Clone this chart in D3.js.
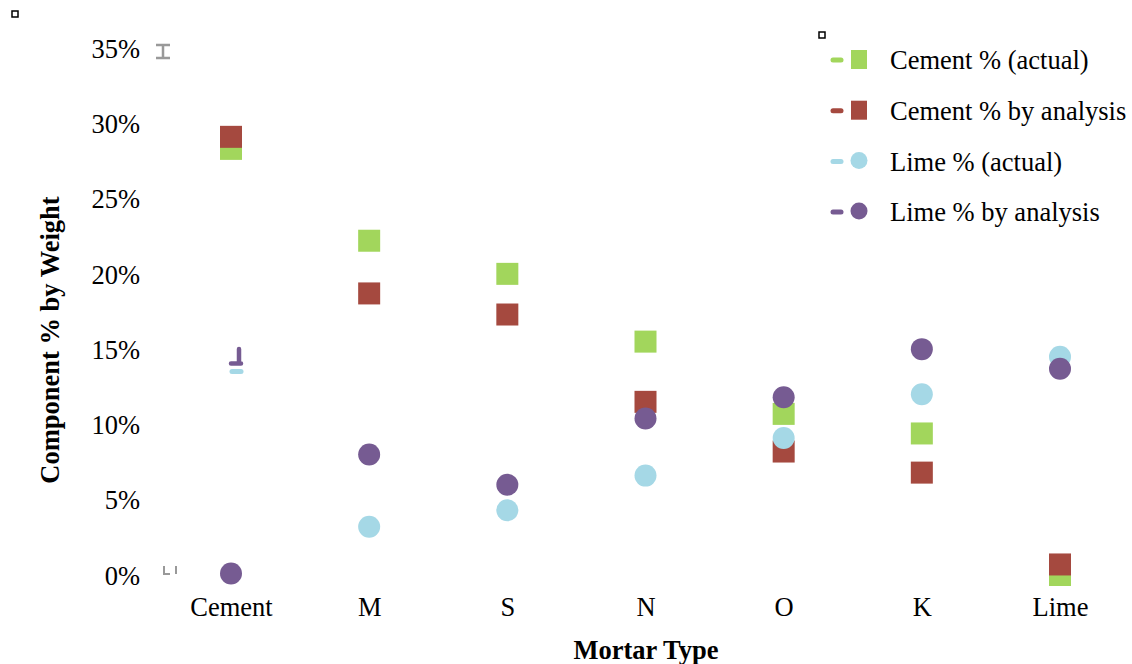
<!DOCTYPE html>
<html>
<head>
<meta charset="utf-8">
<script src="https://cdn.jsdelivr.net/npm/d3@7"></script>
<style>
  body { margin: 0; background: #fff; }
  text { font-family: "Liberation Serif", "Times New Roman", serif; }
</style>
</head>
<body>
<svg id="svg" width="1132" height="664"></svg>
<script>
// data
var mortarTypes = ["Cement", "M", "S", "N", "O", "K", "Lime"];
var cementActual = [28.3, 22.2, 20.0, 15.5, 10.7, 9.4, 0.0];
var cementAnalysis = [29.1, 18.7, 17.3, 11.5, 8.2, 6.8, 0.7];
var limeActual = [null, 3.2, 4.3, 6.6, 9.1, 12.0, 14.5];
var limeAnalysis = [0.1, 8.0, 6.0, 10.4, 11.8, 15.0, 13.7];
var yTicks = [0, 5, 10, 15, 20, 25, 30, 35];

var series = [
  {name: "Cement % (actual)", values: cementActual, color: "#a2d65c", shape: "square"},
  {name: "Cement % by analysis", values: cementAnalysis, color: "#a5493f", shape: "square"},
  {name: "Lime % (actual)", values: limeActual, color: "#a5d8e6", shape: "circle"},
  {name: "Lime % by analysis", values: limeAnalysis, color: "#765b92", shape: "circle"}
];

var fontSize = 26.5;
var svg = d3.select("#svg");

var x = d3.scalePoint().domain(mortarTypes).range([231, 1060]);
var y = d3.scaleLinear().domain([0, 35]).range([575, 48]);

// y axis (labels only)
var yAxis = svg.append("g")
  .attr("transform", "translate(150,0)")
  .call(d3.axisLeft(y).tickValues(yTicks).tickSize(0).tickPadding(10).tickFormat(function(d){ return d + "%"; }));
yAxis.select(".domain").remove();
yAxis.selectAll("text").attr("font-size", fontSize).attr("fill", "#000").attr("dy", "0.35em")
  .style("font-family", "'Liberation Serif', serif");

// x axis (labels only)
var xAxis = svg.append("g")
  .attr("transform", "translate(0,616)")
  .call(d3.axisBottom(x).tickSize(0).tickPadding(0));
xAxis.select(".domain").remove();
xAxis.selectAll("text").attr("font-size", fontSize).attr("fill", "#000").attr("dy", 0)
  .style("font-family", "'Liberation Serif', serif");

// stray gray axis marks
svg.append("path").attr("d", "M156,45H170M163,45V58M156,58H170")
  .attr("stroke", "#999").attr("stroke-width", 2.5).attr("fill", "none");
svg.append("path").attr("d", "M164,566V574H170M176,566V574")
  .attr("stroke", "#999").attr("stroke-width", 2).attr("fill", "none");

// small black squares
[[15, 14], [822, 35]].forEach(function(p){
  svg.append("rect").attr("x", p[0] - 3).attr("y", p[1] - 3).attr("width", 6).attr("height", 6)
    .attr("fill", "#fff").attr("stroke", "#000").attr("stroke-width", 1.5);
});

// odd little marks near Cement at ~14%
svg.append("path").attr("d", "M232,371.5H241")
  .attr("stroke", "#a5d8e6").attr("stroke-width", 5).attr("stroke-linecap", "round");
svg.append("path").attr("d", "M231,363.5H241M239,363V349")
  .attr("stroke", "#765b92").attr("stroke-width", 4.5).attr("stroke-linecap", "round").attr("fill", "none");

var size = 22;
series.forEach(function(s){
  var pts = s.values.map(function(v, i){ return {cat: mortarTypes[i], v: v}; })
    .filter(function(d){ return d.v !== null; });
  var g = svg.append("g");
  if (s.shape === "square") {
    g.selectAll("rect").data(pts).enter().append("rect")
      .attr("x", function(d){ return x(d.cat) - size / 2; })
      .attr("y", function(d){ return y(d.v) - size / 2; })
      .attr("width", size).attr("height", size)
      .attr("fill", s.color);
  } else {
    g.selectAll("circle").data(pts).enter().append("circle")
      .attr("cx", function(d){ return x(d.cat); })
      .attr("cy", function(d){ return y(d.v); })
      .attr("r", size / 2)
      .attr("fill", s.color);
  }
});

// legend
var legend = svg.append("g").attr("transform", "translate(832,60)");
series.forEach(function(s, i){
  var row = legend.append("g").attr("transform", "translate(0," + (i * 50.7) + ")");
  row.append("line").attr("x1", 1).attr("x2", 9).attr("y1", 0).attr("y2", 0)
    .attr("stroke", s.color).attr("stroke-width", 5).attr("stroke-linecap", "round");
  if (s.shape === "square") {
    row.append("rect").attr("x", 19).attr("y", -10).attr("width", 16).attr("height", 19).attr("fill", s.color);
  } else {
    row.append("circle").attr("cx", 27).attr("cy", -1).attr("r", 8.5).attr("fill", s.color);
  }
  row.append("text").attr("x", 58).attr("y", 0).attr("dy", "0.35em")
    .attr("font-size", fontSize).text(s.name);
});

// axis titles
svg.append("text").attr("x", 646).attr("y", 650).attr("dy", "0.35em")
  .attr("text-anchor", "middle").attr("font-size", fontSize).attr("font-weight", "bold").text("Mortar Type");
svg.append("text").attr("transform", "translate(50,340) rotate(-90)").attr("dy", "0.35em")
  .attr("text-anchor", "middle").attr("font-size", fontSize).attr("font-weight", "bold").text("Component % by Weight");
</script>
</body>
</html>
